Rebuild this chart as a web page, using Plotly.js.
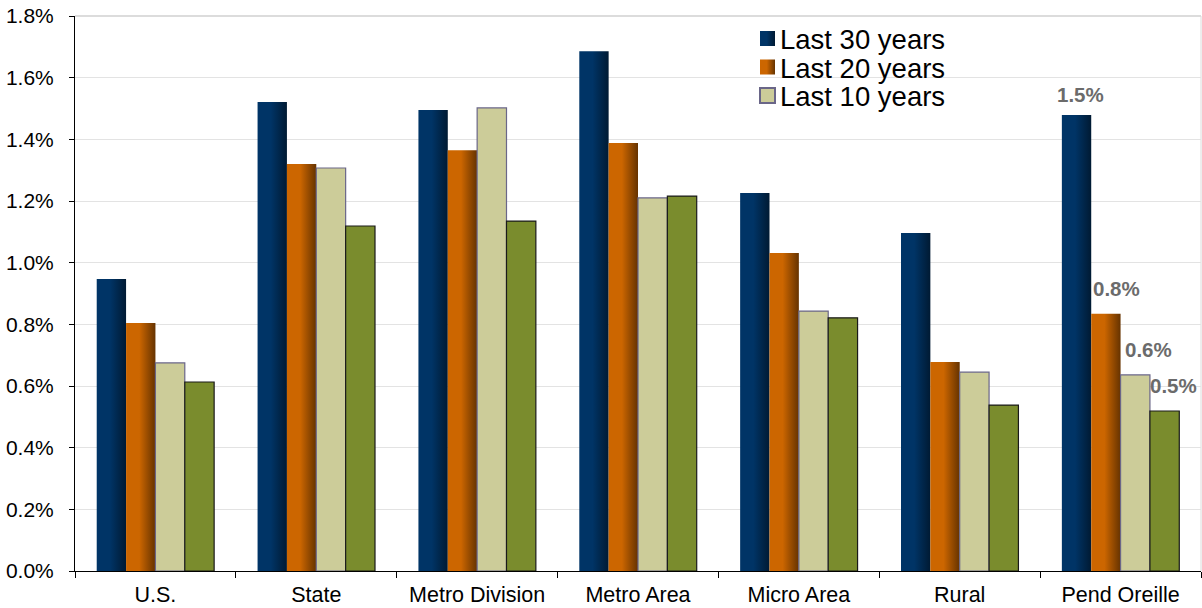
<!DOCTYPE html>
<html>
<head>
<meta charset="utf-8">
<script src="https://cdn.plot.ly/plotly-3.0.1.min.js"></script>
<style>
  html, body { margin: 0; padding: 0; background: #ffffff; }
  #chart { width: 1202px; height: 608px; }
</style>
</head>
<body>
<div id="chart"></div>
<script>
// Average annual growth rate by area, over three look-back windows
const categories = ["U.S.", "State", "Metro Division", "Metro Area", "Micro Area", "Rural", "Pend Oreille"];
const seriesNames = ["Last 30 years", "Last 20 years", "Last 10 years", "Since 2000"];
const last30 = [0.947, 1.521, 1.495, 1.686, 1.226, 1.096, 1.479];
const last20 = [0.804, 1.320, 1.365, 1.388, 1.031, 0.678, 0.834];
const last10 = [0.675, 1.307, 1.502, 1.210, 0.843, 0.645, 0.636];
const recent = [0.613, 1.119, 1.135, 1.216, 0.821, 0.538, 0.519];
const yTickVals = [0, 0.2, 0.4, 0.6, 0.8, 1.0, 1.2, 1.4, 1.6, 1.8];

const allSeries = [last30, last20, last10, recent];
const fills = ["#002a57", "#9a4c00", "#cccc99", "#7a8c2d"];
const outlines = ["rgba(0,0,0,0)", "rgba(0,0,0,0)", "#6a6688", "#1a1a1a"];
const BARGAP = 0.27;

const traces = allSeries.map((vals, i) => ({
  type: "bar",
  name: seriesNames[i],
  x: categories,
  y: vals,
  showlegend: i < 3,
  marker: { color: fills[i], line: { color: outlines[i], width: i < 2 ? 0 : 1.2 } },
  hoverinfo: "skip"
}));

// Value labels on the last group, placed over each bar
const labelCat = categories.length - 1;
const barW = (1 - BARGAP) / allSeries.length;
const labelNudge = [4, 11, 13, 9];
const labelLift = [7, 12, 12, 12];
const annotations = allSeries.map((vals, i) => ({
  xref: "x", yref: "y",
  x: labelCat + (i - (allSeries.length - 1) / 2) * barW,
  y: vals[labelCat],
  text: vals[labelCat].toFixed(1) + "%",
  showarrow: false,
  xanchor: "center", yanchor: "bottom",
  xshift: labelNudge[i], yshift: labelLift[i],
  font: { family: "Liberation Sans, Arial, sans-serif", size: 20.5, color: "#6b6b6b", weight: 700 }
}));

const layout = {
  width: 1202, height: 608,
  margin: { l: 75, r: 1, t: 16, b: 37 },
  paper_bgcolor: "#ffffff",
  plot_bgcolor: "#ffffff",
  font: { family: "Liberation Sans, Arial, sans-serif", size: 21, color: "#000000" },
  barmode: "group",
  bargap: BARGAP,
  bargroupgap: 0,
  showlegend: true,
  legend: {
    x: 0.59, y: 0.995, xanchor: "left", yanchor: "top",
    bgcolor: "rgba(0,0,0,0)",
    font: { size: 27.5, color: "#000000" },
    tracegroupgap: 0, itemsizing: "constant",
    traceorder: "normal"
  },
  xaxis: {
    type: "category",
    showline: true, linecolor: "#000000", linewidth: 1,
    ticks: "outside", ticklen: 6, tickcolor: "#000000", tickson: "boundaries",
    showgrid: false, zeroline: false,
    ticklabelstandoff: 4,
    tickfont: { size: 21.5 }
  },
  yaxis: {
    range: [0, 1.8],
    tickvals: yTickVals,
    ticktext: yTickVals.map(v => v.toFixed(1) + "%"),
    showline: true, linecolor: "#000000", linewidth: 1,
    ticks: "outside", ticklen: 5, tickcolor: "#000000",
    showgrid: true, gridcolor: "#e3e3e3", gridwidth: 1,
    zeroline: false,
    ticklabelstandoff: 11,
    tickfont: { size: 21 }
  },
  shapes: [
    { type: "line", xref: "paper", yref: "paper", x0: 0, x1: 1, y0: 1, y1: 1,
      line: { color: "#dcdcdc", width: 2 }, layer: "below" },
    { type: "line", xref: "paper", yref: "paper", x0: 1, x1: 1, y0: 0, y1: 1,
      line: { color: "#dcdcdc", width: 1 }, layer: "below" }
  ],
  annotations: annotations
};

// Horizontal shading on the dark bars (bright left edge fading to the right)
const gradients = [
  { id: "gradNavy", from: "#003466", to: "#001a33" },
  { id: "gradRust", from: "#cc6600", to: "#663300" }
];

// Legend entry layout: square swatch left edge and row centres (px)
const LEGEND_SWATCH_LEFT = 760;
const LEGEND_FIRST_ROW = 38.5;
const LEGEND_ROW_STEP = 28.5;

function parseTranslate(el) {
  const t = el.getAttribute("transform") || "";
  const m = t.match(/translate\(\s*([-\d.]+)[ ,]+([-\d.]+)\s*\)/);
  return m ? [parseFloat(m[1]), parseFloat(m[2])] : [0, 0];
}

function applyGradients(gd) {
  const svg = gd.querySelector("svg.main-svg");
  if (!svg) return;
  let defs = svg.querySelector("defs");
  if (!defs) {
    defs = document.createElementNS("http://www.w3.org/2000/svg", "defs");
    svg.insertBefore(defs, svg.firstChild);
  }
  gradients.forEach(g => {
    if (defs.querySelector("#" + g.id)) return;
    const lg = document.createElementNS("http://www.w3.org/2000/svg", "linearGradient");
    lg.setAttribute("id", g.id);
    lg.setAttribute("x1", "0"); lg.setAttribute("y1", "0");
    lg.setAttribute("x2", "1"); lg.setAttribute("y2", "0");
    [["0", g.from], ["0.45", g.from], ["1", g.to]].forEach(([o, c]) => {
      const st = document.createElementNS("http://www.w3.org/2000/svg", "stop");
      st.setAttribute("offset", o);
      st.setAttribute("stop-color", c);
      lg.appendChild(st);
    });
    defs.appendChild(lg);
  });
  const barTraces = gd.querySelectorAll(".barlayer .trace.bars");
  barTraces.forEach((tr, i) => {
    if (i < gradients.length) {
      tr.querySelectorAll("path").forEach(p => { p.style.fill = "url(#" + gradients[i].id + ")"; });
    }
  });
  const svgBox = svg.getBoundingClientRect();
  const legendItems = gd.querySelectorAll(".legend .traces");
  legendItems.forEach((it, i) => {
    const pts = it.querySelectorAll(".legendpoints path");
    pts.forEach(p => {
      p.setAttribute("d", "M15,7.5H0V-7.5H15Z");
      if (i < gradients.length) p.style.fill = "url(#" + gradients[i].id + ")";
    });
    if (!pts.length) return;
    const b = pts[0].getBoundingClientRect();
    const curLeft = b.left - svgBox.left;
    const curMid = b.top - svgBox.top + b.height / 2;
    const dx = LEGEND_SWATCH_LEFT - curLeft;
    const dy = (LEGEND_FIRST_ROW + i * LEGEND_ROW_STEP) - curMid;
    const [tx, ty] = parseTranslate(it);
    it.setAttribute("transform", "translate(" + (tx + dx) + "," + (ty + dy) + ")");
  });
}

const gd = document.getElementById("chart");
Plotly.newPlot(gd, traces, layout, { displayModeBar: false, responsive: false }).then(() => {
  applyGradients(gd);
  gd.on("plotly_afterplot", () => applyGradients(gd));
});
</script>
</body>
</html>
